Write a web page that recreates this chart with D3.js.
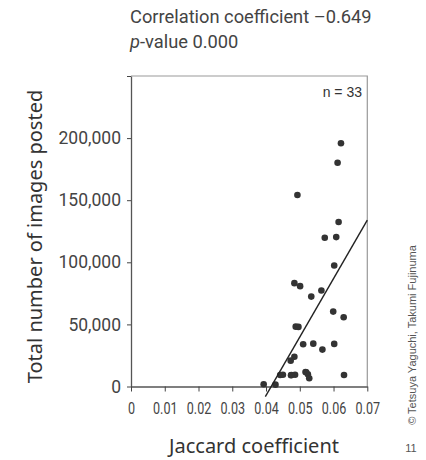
<!DOCTYPE html>
<html><head><meta charset="utf-8">
<script src="https://cdn.jsdelivr.net/npm/d3@7"></script>
<style>body{margin:0;background:#fff}svg{display:block}</style>
</head><body><svg id="c" width="426" height="460"></svg>
<script>
const jaccard = [0.0622,0.0612,0.0493,0.0615,0.0574,0.0608,0.0602,0.0484,0.0501,0.0564,0.0534,0.0599,0.0630,0.0488,0.0496,0.0510,0.0540,0.0602,0.0567,0.0484,0.0473,0.0442,0.0450,0.0474,0.0486,0.0517,0.0524,0.0528,0.0631,0.0393,0.0428,0.0475,0.0519];
const images = [195800,180200,154200,132400,119800,120300,97400,83200,80800,77300,72400,60300,55800,48200,48000,34000,34500,34300,29700,24000,20800,9300,9500,9000,9500,11700,9800,6600,9300,1800,1500,9200,11500];
const xTicks = [0,0.01,0.02,0.03,0.04,0.05,0.06,0.07];
const yTicks = [0,50000,100000,150000,200000,250000];
const trendX = [0.0398,0.0700];
const trendY = [-8200,134000];
const headerLines = ["Correlation coefficient \u20130.649","p-value 0.000"];

const svg = d3.select("#c");
const x = d3.scaleLinear().domain([0,0.07]).range([131,367.3]);
const y = d3.scaleLinear().domain([0,250000]).range([386.5,76]);
const fmtY = d3.format(",");

// frame
svg.append("path").attr("d",`M${x(0)},${y(250000)}H${x(0.07)}V${y(0)}`)
  .attr("fill","none").attr("stroke","#999").attr("stroke-width",1.2);

// y axis
const ya = svg.append("g").attr("transform",`translate(${x(0)},0)`)
  .call(d3.axisLeft(y).tickValues(yTicks).tickSize(4).tickSizeOuter(0)
    .tickFormat(d=> d===250000 ? "" : fmtY(d)).tickPadding(6));
ya.select(".domain").attr("stroke","#555").attr("stroke-width",1.3);
ya.selectAll(".tick line").attr("stroke","#444");
ya.selectAll("text").attr("font-family","Roboto, sans-serif").attr("font-size",17.5).attr("fill","#444");

// x axis
const xa = svg.append("g").attr("transform",`translate(0,${y(0)})`)
  .call(d3.axisBottom(x).tickValues(xTicks).tickSize(5).tickSizeOuter(0)
    .tickFormat(d=> d===0 ? "0" : d3.format(".2f")(d)).tickPadding(10));
xa.select(".domain").attr("stroke","#555").attr("stroke-width",1.3);
xa.selectAll(".tick line").attr("stroke","#444");
xa.selectAll("text").attr("font-family","Roboto, sans-serif")
  .attr("font-size",17).attr("fill","#444").attr("transform","scale(0.74,1)");

// points
svg.append("g").selectAll("circle").data(jaccard).join("circle")
  .attr("cx",(d)=>x(d)).attr("cy",(d,i)=>y(images[i])).attr("r",3.3).attr("fill","#333");

// trend line
svg.append("line").attr("x1",x(trendX[0])).attr("y1",y(trendY[0]))
  .attr("x2",x(trendX[1])).attr("y2",y(trendY[1])).attr("stroke","#222").attr("stroke-width",1.4);

// n label
svg.append("text").attr("x",362).attr("y",97).attr("text-anchor","end")
  .attr("font-family","'Liberation Sans',Arial,sans-serif").attr("font-size",14).attr("fill","#333").text("n = 33");

// header
const h = svg.append("g").attr("font-family","Roboto, sans-serif").attr("font-size",18.3).attr("fill","#444");
h.append("text").attr("x",130).attr("y",23).text(headerLines[0]);
const t2 = h.append("text").attr("x",130).attr("y",48);
t2.append("tspan").attr("font-style","italic").text(headerLines[1].slice(0,1));
t2.append("tspan").text(headerLines[1].slice(1));

// axis titles
svg.append("text").attr("x",254).attr("y",453).attr("text-anchor","middle")
  .attr("font-family","'Noto Sans', sans-serif").attr("font-size",20).attr("fill","#333").text("Jaccard coefficient");
svg.append("text").attr("transform","translate(42,236.5) rotate(-90)").attr("text-anchor","middle")
  .attr("font-family","'Noto Sans', sans-serif").attr("font-size",20).attr("fill","#333").text("Total number of images posted");

// credit
svg.append("text").attr("transform","translate(416,335) rotate(-90)").attr("text-anchor","middle")
  .attr("font-family","'Liberation Sans',Arial,sans-serif").attr("font-size",11).attr("fill","#555")
  .text("\u00A9 Tetsuya Yaguchi, Takumi Fujinuma");
svg.append("text").attr("x",411).attr("y",452).attr("text-anchor","middle")
  .attr("font-family","'Liberation Sans',Arial,sans-serif").attr("font-size",11).attr("fill","#555").text("11");
</script></body></html>
